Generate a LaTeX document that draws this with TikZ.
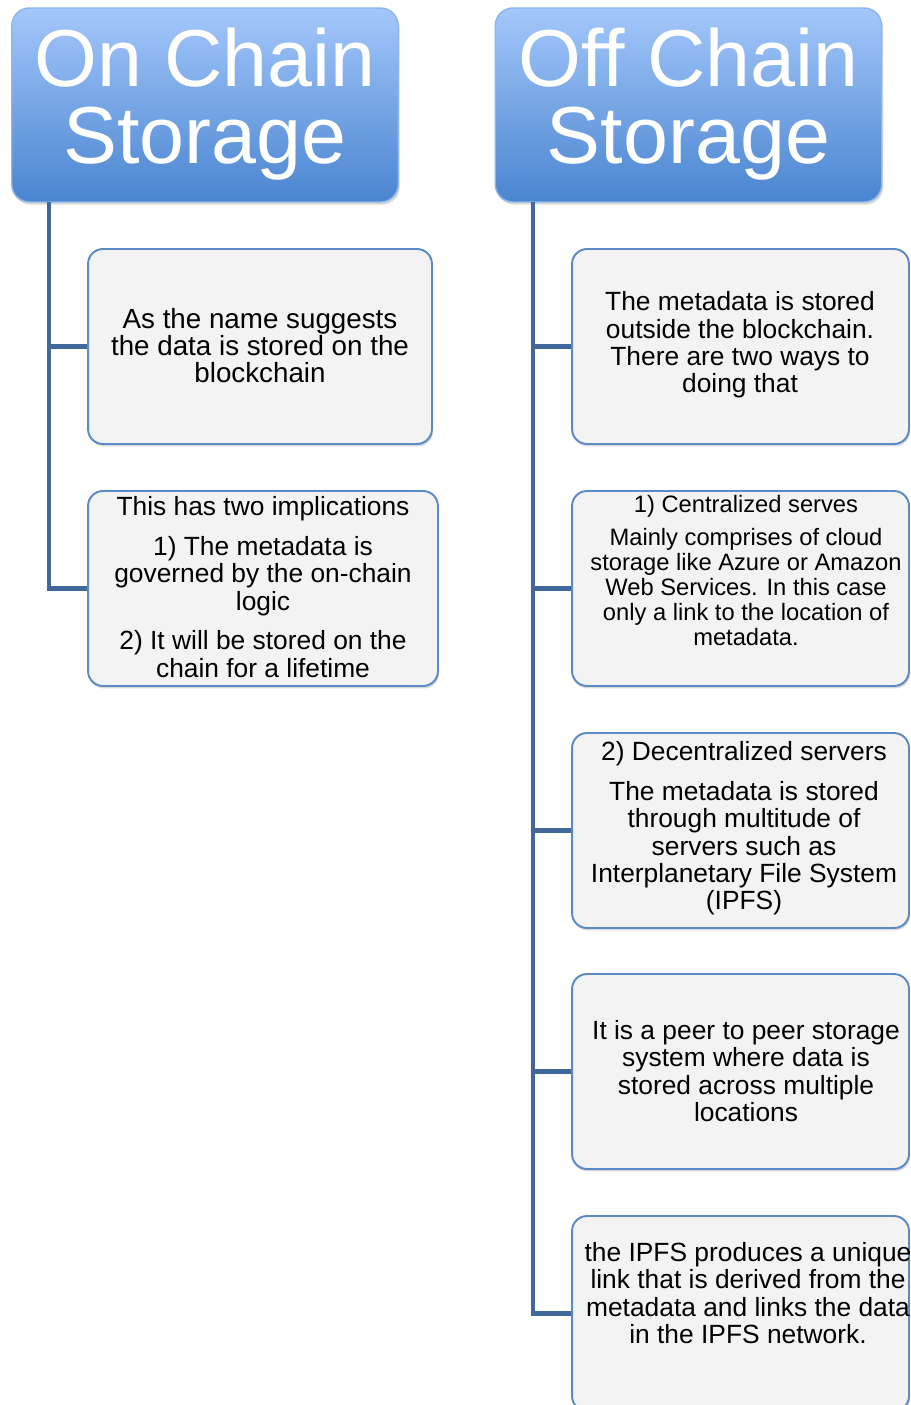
\documentclass[tikz,border=0pt]{standalone}
\usepackage{fontspec}
\setmainfont{Liberation Sans}
\usetikzlibrary{shadows}

\definecolor{hdrtop}{HTML}{A4C7FB}
\definecolor{hdrbot}{HTML}{4A85D0}
\definecolor{hdredge}{HTML}{8DB5EE}
\definecolor{boxfill}{HTML}{F3F3F3}
\definecolor{boxline}{HTML}{5B8AC5}
\definecolor{trunk}{HTML}{41689B}

\begin{document}
\begin{tikzpicture}[x=0.02cm, y=-0.02cm,
    hdr/.style={rounded corners=10pt, top color=hdrtop, bottom color=hdrbot, draw=hdredge,
        line width=0.8pt, minimum width=7.73cm, minimum height=3.88cm, inner sep=0pt,
        drop shadow={opacity=0.3, shadow xshift=0.8pt, shadow yshift=-1.5pt}},
    hdrtext/.style={text=white, align=center, font=\fontsize{46}{44.2}\selectfont},
    box/.style={rounded corners=8.5pt, fill=boxfill, draw=boxline, line width=1.1pt,
        minimum height=3.9cm, inner sep=0pt,
        drop shadow={opacity=0.3, shadow xshift=0.6pt, shadow yshift=-1.4pt}},
    boxtext/.style={align=center, font=\fontsize{15}{15.6}\selectfont},
    conn/.style={draw=trunk, line width=2.3pt}]

    \useasboundingbox (0,0) rectangle (911,1405);
    \clip (0,0) rectangle (911,1405);

    % Trunks under the two headers
    \coordinate (ltrunk) at (49,202);
    \coordinate (rtrunk) at (533,202);

    % Headers
    \node[hdr] (onchain) at (205,105) {};
    \node[hdr] (offchain) at (688.5,105) {};
    \node[hdrtext] (onchaintxt) at (205,104) {On Chain\\Storage};
    \node[hdrtext] (offchaintxt) at (688.5,104) {Off Chain\\Storage};

    % On chain boxes
    \node[box, minimum width=6.88cm] (name) at (260,346.5) {};
    \node[box, minimum width=7.0cm] (implic) at (263,588.5) {};

    % Off chain boxes
    \node[box, minimum width=6.74cm] (outside) at (740.5,346.5) {};
    \node[box, minimum width=6.74cm] (central) at (740.5,588.5) {};
    \node[box, minimum width=6.74cm] (decentral) at (740.5,830.5) {};
    \node[box, minimum width=6.74cm] (peer) at (740.5,1071.5) {};
    \node[box, minimum width=6.74cm] (link) at (740.5,1313.5) {};

    % Connectors
    \draw[conn] (ltrunk) |- (name.west);
    \draw[conn] (ltrunk) |- (implic.west);
    \draw[conn] (rtrunk) |- (outside.west);
    \draw[conn] (rtrunk) |- (central.west);
    \draw[conn] (rtrunk) |- (decentral.west);
    \draw[conn] (rtrunk) |- (peer.west);
    \draw[conn] (rtrunk) |- (link.west);

    % Box texts
    \node[boxtext, font=\fontsize{15.8}{15.6}\selectfont] (nametxt) at (260,345.5) {As the name suggests\\the data is stored on the\\blockchain};
    \node[boxtext] (implictxt) at (263,587) {This has two implications\\[7pt]1) The metadata is\\governed by the on-chain\\logic\\[7pt]2) It will be stored on the\\chain for a lifetime};
    \node[boxtext] (outsidetxt) at (740,345) {The metadata is stored\\outside the blockchain.\\There are two ways to\\doing that};
    \node[boxtext, font=\fontsize{13.5}{14.2}\selectfont] (centraltxt) at (746,570.5) {1) Centralized serves\\[5pt]Mainly comprises of cloud\\storage like Azure or Amazon\\Web Services. In this case\\only a link to the location of\\metadata.};
    \node[boxtext] (decentraltxt) at (744,828.5) {2) Decentralized servers\\[7pt]The metadata is stored\\through multitude of\\servers such as\\Interplanetary File System\\(IPFS)};
    \node[boxtext] (peertxt) at (746,1071) {It is a peer to peer storage\\system where data is\\stored across multiple\\locations};
    \node[boxtext] (linktxt) at (748,1293) {the IPFS produces a unique\\link that is derived from the\\metadata and links the data\\in the IPFS network.};
\end{tikzpicture}
\end{document}
